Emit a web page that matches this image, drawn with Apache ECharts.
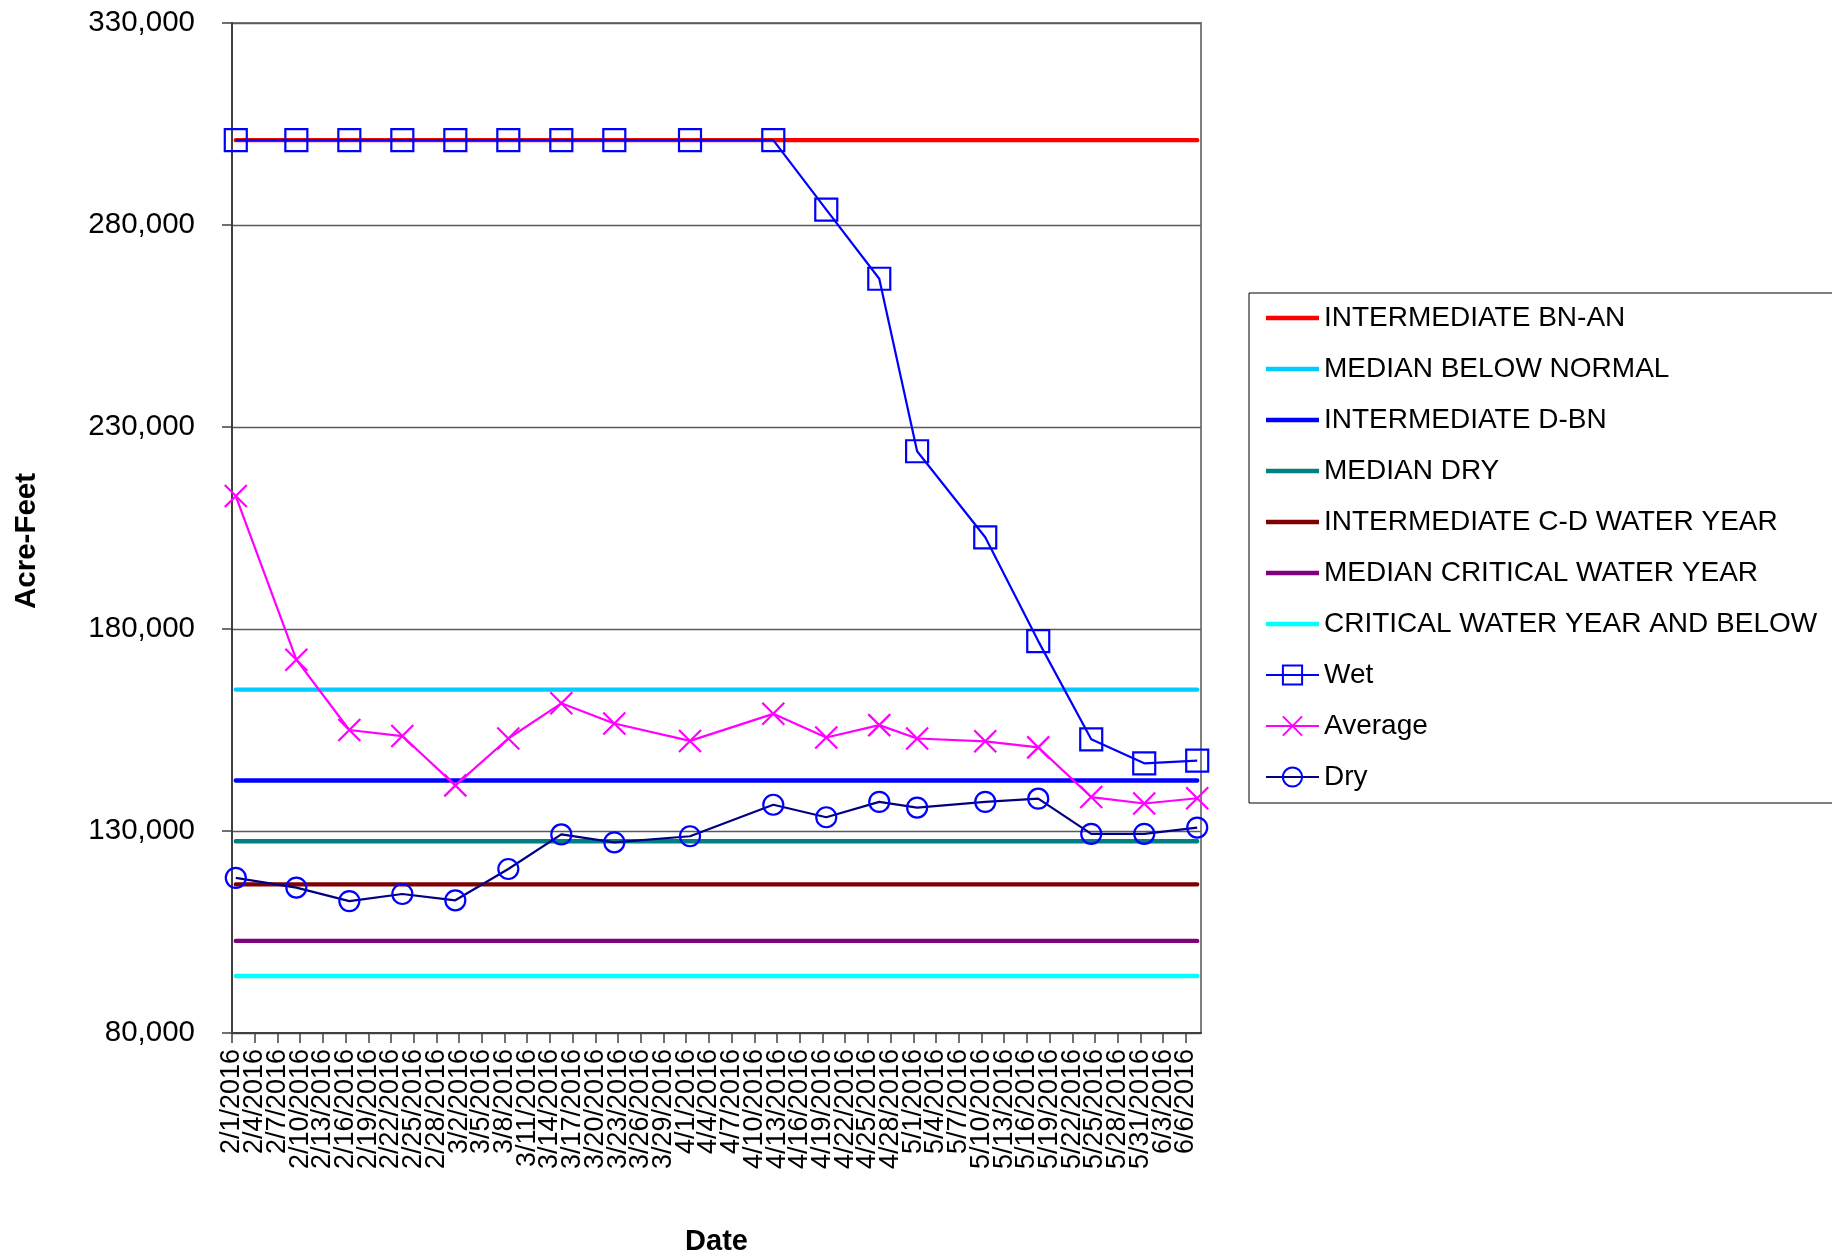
<!DOCTYPE html>
<html>
<head>
<meta charset="utf-8">
<script src="https://cdn.jsdelivr.net/npm/echarts@6/dist/echarts.min.js"></script>
<style>
html,body{margin:0;padding:0;background:#fff;}
#chart{width:1832px;height:1258px;}
</style>
</head>
<body>
<div id="chart"></div>
<script>
// ---------------- DATA ----------------
const dates = ['2/1/2016','2/9/2016','2/16/2016','2/23/2016','3/1/2016','3/8/2016','3/15/2016','3/22/2016','4/1/2016',
               '4/12/2016','4/19/2016','4/26/2016','5/1/2016','5/10/2016','5/17/2016','5/24/2016','5/31/2016','6/7/2016'];

const wet     = [301000,301000,301000,301000,301000,301000,301000,301000,301000,
                 301000,283800,266700,224000,202700,177000,152700,146750,147400];
const average = [212900,172400,155000,153500,141300,152900,161600,156600,152300,
                 159000,153150,156200,152900,152200,150700,138400,136800,138100];
const dry     = [118400,116000,112650,114400,112850,120600,129150,127200,128700,
                 136500,133400,137200,135800,137200,138000,129300,129300,130850];

const refNames  = ['INTERMEDIATE BN-AN','MEDIAN BELOW NORMAL','INTERMEDIATE D-BN','MEDIAN DRY',
                   'INTERMEDIATE C-D WATER YEAR','MEDIAN CRITICAL WATER YEAR','CRITICAL WATER YEAR AND BELOW'];
const refValues = [301000,165000,142500,127450,116800,102800,94100];

const xTickLabels = ['2/1/2016','2/4/2016','2/7/2016','2/10/2016','2/13/2016','2/16/2016','2/19/2016','2/22/2016',
  '2/25/2016','2/28/2016','3/2/2016','3/5/2016','3/8/2016','3/11/2016','3/14/2016','3/17/2016','3/20/2016',
  '3/23/2016','3/26/2016','3/29/2016','4/1/2016','4/4/2016','4/7/2016','4/10/2016','4/13/2016','4/16/2016',
  '4/19/2016','4/22/2016','4/25/2016','4/28/2016','5/1/2016','5/4/2016','5/7/2016','5/10/2016','5/13/2016',
  '5/16/2016','5/19/2016','5/22/2016','5/25/2016','5/28/2016','5/31/2016','6/3/2016','6/6/2016'];
const yTicks = [80000,130000,180000,230000,280000,330000];

// ---------------- HELPERS ----------------
const FONT = '"Liberation Sans", Arial, sans-serif';
const [m0, d0, y0] = dates[0].split('/').map(Number);
const DAY0 = Date.UTC(y0, m0 - 1, d0);
function dayIndex(s) {
  const [m, d, y] = s.split('/').map(Number);
  return Math.round((Date.UTC(y, m - 1, d) - DAY0) / 86400000);
}
function fmtDate(v) {
  const dt = new Date(DAY0 + Math.round(v) * 86400000);
  return (dt.getUTCMonth() + 1) + '/' + dt.getUTCDate() + '/' + dt.getUTCFullYear();
}
// each date occupies a one-day slot; points sit in the middle of the slot
const pts = vals => dates.map((d, i) => [dayIndex(d) + 0.5, vals[i]]);
const tickVals = xTickLabels.map(dayIndex);
const tickValsA = tickVals.filter((v, i) => i % 2 === 0);
const tickValsB = tickVals.filter((v, i) => i % 2 === 1);
const xMin = dayIndex(dates[0]);
const xMax = dayIndex(dates[dates.length - 1]) + 1;

const refColors = ['#FF0000', '#00CCFF', '#0000FF', '#008080', '#800000', '#800080', '#00FFFF'];
const LINE_ICON = 'path://M0,0H56V4.6H0Z';

const series = refNames.map((n, i) => ({
  name: n,
  type: 'line',
  data: dates.map(d => [dayIndex(d) + 0.5, refValues[i]]),
  symbol: 'none',
  lineStyle: { color: refColors[i], width: 4.4, cap: 'round' },
  itemStyle: { color: refColors[i] },
  silent: true,
  clip: false
}));

const CLEAR = 'rgba(0,0,0,0)';
series.push({
  name: 'Wet', type: 'line', data: pts(wet),
  symbol: 'rect', symbolSize: 22,
  lineStyle: { color: '#0000FF', width: 2.2 },
  itemStyle: { color: CLEAR, borderColor: '#0000FF', borderWidth: 2.2 },
  clip: false
});
series.push({
  name: 'Average', type: 'line', data: pts(average),
  symbol: 'path://M0,0L10,10M10,0L0,10', symbolSize: 22,
  lineStyle: { color: '#FF00FF', width: 2.2 },
  itemStyle: { color: CLEAR, borderColor: '#FF00FF', borderWidth: 2.2 },
  clip: false
});
series.push({
  name: 'Dry', type: 'line', data: pts(dry),
  symbol: 'circle', symbolSize: 20,
  lineStyle: { color: '#000080', width: 2.2 },
  itemStyle: { color: CLEAR, borderColor: '#0000FF', borderWidth: 2.2 },
  clip: false
});

const labelStyle = {
  rotate: 90, margin: 16,
  showMinLabel: true, showMaxLabel: true, hideOverlap: false,
  fontFamily: FONT, fontSize: 27, color: '#000',
  formatter: v => fmtDate(v)
};

const chart = echarts.init(document.getElementById('chart'), null, { renderer: 'canvas' });
chart.setOption({
  animation: false,
  backgroundColor: '#ffffff',
  grid: {
    left: 232, right: 631, top: 23, bottom: 225,
    show: true, borderColor: '#808080', borderWidth: 2,
    outerBoundsMode: 'none', containLabel: false
  },
  legend: {
    orient: 'vertical',
    left: 1249, top: 293,
    itemWidth: 53, itemHeight: 24, itemGap: 21,
    padding: [10, 24, 11, 16],
    borderColor: '#000000', borderWidth: 1,
    selectedMode: false,
    textStyle: { fontFamily: FONT, fontSize: 28, color: '#000', lineHeight: 30 },
    data: refNames.map(n => ({ name: n, icon: LINE_ICON })).concat(['Wet', 'Average', 'Dry'])
  },
  xAxis: [{
    type: 'value',
    position: 'bottom',
    min: xMin, max: xMax,
    name: 'Date', nameLocation: 'middle', nameGap: 194,
    nameTextStyle: { fontFamily: FONT, fontSize: 29, fontWeight: 'bold', color: '#000' },
    axisLine: { show: true, onZero: false, lineStyle: { color: '#404040', width: 2 } },
    axisTick: { show: true, customValues: tickVals, length: 10, lineStyle: { color: '#404040', width: 1.5 } },
    axisLabel: Object.assign({ customValues: tickValsA }, labelStyle),
    splitLine: { show: false }
  }, {
    type: 'value',
    position: 'bottom', offset: 0,
    min: xMin, max: xMax,
    axisLine: { show: false, onZero: false },
    axisTick: { show: false },
    axisLabel: Object.assign({ customValues: tickValsB }, labelStyle),
    splitLine: { show: false }
  }],
  yAxis: {
    type: 'value',
    min: yTicks[0], max: yTicks[yTicks.length - 1], interval: yTicks[1] - yTicks[0],
    name: 'Acre-Feet', nameLocation: 'middle', nameGap: 190,
    nameTextStyle: { fontFamily: FONT, fontSize: 29.5, fontWeight: 'bold', color: '#000', padding: [0, 26, 0, 0] },
    axisLine: { show: true, lineStyle: { color: '#404040', width: 2 } },
    axisTick: { show: true, length: 10, lineStyle: { color: '#404040', width: 1.5 } },
    axisLabel: {
      margin: 37, fontFamily: FONT, fontSize: 29.5, color: '#000',
      formatter: v => v.toLocaleString('en-US')
    },
    splitLine: { show: true, lineStyle: { color: '#5a5a5a', width: 1.4 } }
  },
  series: series
});
</script>
</body>
</html>
